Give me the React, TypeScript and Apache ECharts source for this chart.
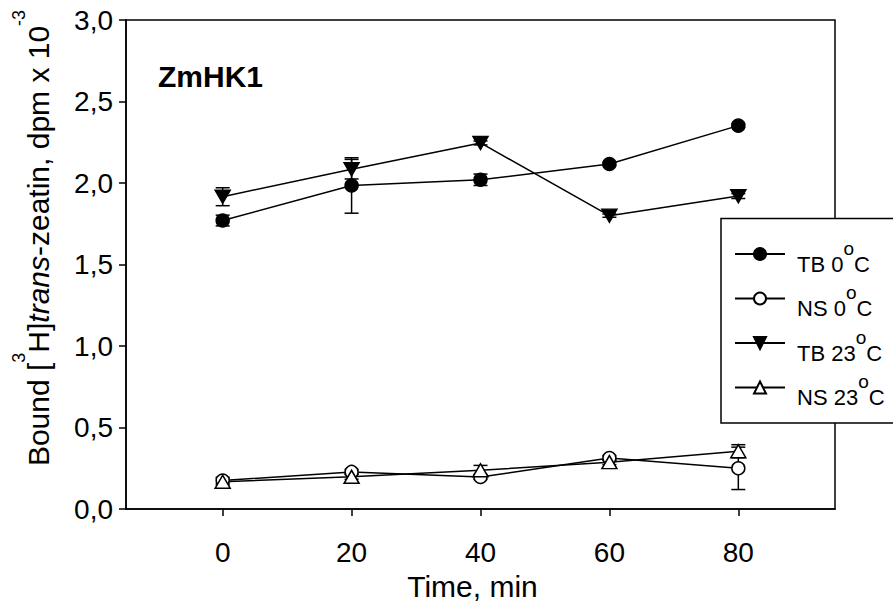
import React, { useEffect, useRef } from 'react';
import * as echarts from 'echarts';

const times = [0, 20, 40, 60, 80];
const seriesNames = ['TB 0°C', 'NS 0°C', 'TB 23°C', 'NS 23°C'];
const tb0 = [1.77, 1.985, 2.02, 2.117, 2.352];
const tb0Err = [0.033, 0.17, 0.035, 0.01, 0.01];
const ns0 = [0.175, 0.228, 0.197, 0.313, 0.25];
const ns0Err = [0.02, 0.015, 0.015, 0.015, 0.13];
const tb23 = [1.916, 2.085, 2.246, 1.8, 1.92];
const tb23Err = [0.055, 0.06, 0.012, 0.01, 0.015];
const ns23 = [0.168, 0.198, 0.238, 0.288, 0.355];
const ns23Err = [0.02, 0.015, 0.03, 0.015, 0.04];
const yMin = 0;
const yMax = 3;
const yStep = 0.5;
const xMin = -15;
const xMax = 95;
const panelLabel = 'ZmHK1';
const xTitle = 'Time, min';

const FONT = '"Liberation Sans", Arial, Helvetica, sans-serif';

function errorSeries(vals: number[], errs: number[]) {
  return {
    type: 'custom',
    z: 1,
    silent: true,
    data: times.map((t, i) => [t, vals[i] - errs[i], vals[i] + errs[i]]),
    encode: { x: 0, y: [1, 2] },
    renderItem: (params: any, api: any) => {
      const x = api.value(0);
      const lo = api.coord([x, api.value(1)]);
      const hi = api.coord([x, api.value(2)]);
      const hw = 7;
      const style = { stroke: '#000', lineWidth: 1.5 };
      return {
        type: 'group',
        children: [
          { type: 'line', shape: { x1: lo[0], y1: lo[1], x2: hi[0], y2: hi[1] }, style },
          { type: 'line', shape: { x1: lo[0] - hw, y1: lo[1], x2: lo[0] + hw, y2: lo[1] }, style },
          { type: 'line', shape: { x1: hi[0] - hw, y1: hi[1], x2: hi[0] + hw, y2: hi[1] }, style },
        ],
      };
    },
  };
}

function lineSeries(name: string, vals: number[], symbol: string, size: any, fill: string, rotate = 0) {
  return {
    type: 'line',
    name,
    z: 3,
    data: times.map((t, i) => [t, vals[i]]),
    symbol,
    symbolSize: size,
    symbolRotate: rotate,
    showAllSymbol: true,
    color: fill,
    itemStyle: { color: fill, borderColor: '#000', borderWidth: 1.5, opacity: 1 },
    lineStyle: { color: '#000', width: 1.5 },
    emphasis: { disabled: true },
  };
}

export default function App() {
  const ref = useRef<HTMLDivElement>(null);
  useEffect(() => {
    if (!ref.current) return;
    const chart = echarts.init(ref.current, null, { renderer: 'svg' });
    const axisLineStyle = { color: '#000', width: 1.5 };
    chart.setOption({
      animation: false,
      textStyle: { fontFamily: FONT },
      grid: {
        left: 126,
        right: 58,
        top: 20,
        bottom: 92.5,
        show: true,
        borderColor: '#000',
        borderWidth: 1.5,
        backgroundColor: 'transparent',
      },
      xAxis: {
        type: 'value',
        min: xMin,
        max: xMax,
        name: xTitle,
        nameLocation: 'middle',
        nameGap: 58,
        nameTextStyle: { fontSize: 30, color: '#000', fontFamily: FONT, padding: [0, 16, 0, 0] },
        splitLine: { show: false },
        axisLine: { onZero: false, lineStyle: axisLineStyle },
        axisTick: { show: true, inside: false, length: 7, customValues: times, lineStyle: axisLineStyle },
        axisLabel: { customValues: times, fontSize: 28, margin: 29, color: '#000', fontFamily: FONT },
      },
      yAxis: {
        type: 'value',
        min: yMin,
        max: yMax,
        interval: yStep,
        splitLine: { show: false },
        axisLine: { show: true, onZero: false, lineStyle: axisLineStyle },
        axisTick: { show: true, inside: false, length: 7, lineStyle: axisLineStyle },
        axisLabel: {
          fontSize: 28,
          margin: 13,
          color: '#000',
          fontFamily: FONT,
          formatter: (v: number) => v.toFixed(1).replace('.', ','),
        },
      },
      legend: {
        orient: 'vertical',
        left: 721,
        top: 218.5,
        data: seriesNames,
        itemWidth: 50,
        itemHeight: 15,
        itemGap: -26.5,
        padding: [0, 80, 0, 13],
        backgroundColor: '#fff',
        borderColor: '#000',
        borderWidth: 1.5,
        borderRadius: 0,
        selectedMode: false,
        z: 10,
        formatter: (name: string) => {
          const [a, b] = name.split('°');
          return `{m|${a}}{sup|o}{m|${b}}`;
        },
        textStyle: {
          fontSize: 22,
          lineHeight: 51,
          color: '#000',
          fontFamily: FONT,
          padding: [20, 0, 0, 7],
          rich: {
            m: { fontSize: 22, lineHeight: 51, color: '#000', fontFamily: FONT },
            sup: { fontSize: 19, lineHeight: 19, verticalAlign: 'top', color: '#000', fontFamily: FONT },
          },
        },
      },
      graphic: [
        {
          type: 'text',
          x: 158,
          y: 76,
          z: 20,
          style: {
            text: panelLabel,
            fontSize: 30,
            fontWeight: 'bold',
            fontFamily: FONT,
            fill: '#000',
            align: 'left',
            verticalAlign: 'middle',
          },
        },
        {
          type: 'text',
          x: 38,
          y: 238,
          rotation: Math.PI / 2,
          z: 20,
          style: {
            text: '{m|Bound [}{sup|3}{m|H]}{it|trans}{m|-zeatin, dpm x 10}{sup|-3}',
            fontSize: 30,
            lineHeight: 56,
            fontFamily: FONT,
            fill: '#000',
            align: 'center',
            verticalAlign: 'middle',
            rich: {
              m: { fontSize: 30, lineHeight: 56, fontFamily: FONT, fill: '#000' },
              sup: { fontSize: 18, lineHeight: 18, verticalAlign: 'top', fontFamily: FONT, fill: '#000' },
              it: { fontSize: 30, lineHeight: 56, fontStyle: 'italic', fontFamily: FONT, fill: '#000' },
            },
          },
        },
      ],
      series: [
        errorSeries(tb0, tb0Err),
        errorSeries(ns0, ns0Err),
        errorSeries(tb23, tb23Err),
        errorSeries(ns23, ns23Err),
        lineSeries(seriesNames[0], tb0, 'circle', 13, '#000'),
        lineSeries(seriesNames[1], ns0, 'circle', 13, '#fff'),
        lineSeries(seriesNames[2], tb23, 'triangle', [15, 13], '#000', 180),
        lineSeries(seriesNames[3], ns23, 'triangle', [15, 13], '#fff'),
      ],
    });
    return () => chart.dispose();
  }, []);
  return (
    <div
      ref={ref}
      style={{ position: 'fixed', left: 0, top: 0, width: 893, height: 606, background: '#fff' }}
    />
  );
}
